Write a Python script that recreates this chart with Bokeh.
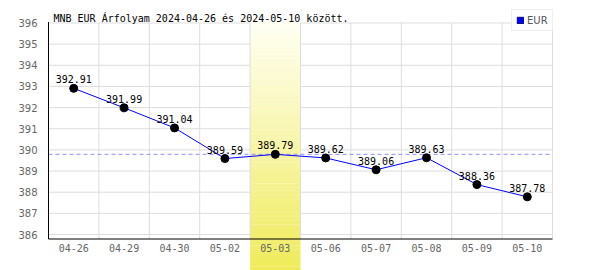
import numpy as np
from bokeh.plotting import figure
from bokeh.models import Range1d, FixedTicker, Legend, LegendItem, Label
from bokeh.core.properties import value
from bokeh.embed import file_html
from bokeh.resources import INLINE

# ---- data ----
dates = ["04-26", "04-29", "04-30", "05-02", "05-03",
         "05-06", "05-07", "05-08", "05-09", "05-10"]
rates = [392.91, 391.99, 391.04, 389.59, 389.79,
         389.62, 389.06, 389.63, 388.36, 387.78]
y_ticks = [386, 387, 388, 389, 390, 391, 392, 393, 394, 395, 396]
highlight_date = "05-03"
marker_value = 389.79
currency = "EUR"
title_text = "MNB EUR Árfolyam 2024-04-26 és 2024-05-10 között."

# ---- layout ----
W, H = 600, 270
LEFT, RIGHT, TOP = 46, 47, 0
PX_X = 50.4
PX_Y = 21.15
n = len(dates)
frame_w = W - LEFT - RIGHT
frame_h = H - TOP
x_start = -(48.0 - LEFT) / PX_X
x_end = x_start + frame_w / PX_X
y_top = max(y_ticks)
y_end = y_top + 22.5 / PX_Y
y_start = y_end - frame_h / PX_Y
axis_y = y_top - 216.0 / PX_Y

p = figure(width=W, height=H, output_backend="svg", toolbar_location=None,
           x_axis_type=None, x_range=Range1d(x_start, x_end),
           y_range=Range1d(y_start, y_end),
           min_border_left=LEFT, min_border_right=RIGHT,
           min_border_top=TOP, min_border_bottom=0)
p.outline_line_color = None
p.background_fill_color = "white"
p.border_fill_color = "white"
p.ygrid.visible = False

# y axis
p.yaxis.ticker = FixedTicker(ticks=y_ticks)
p.yaxis.axis_line_color = None
p.yaxis.major_tick_line_color = None
p.yaxis.minor_tick_line_color = None
p.yaxis.major_label_standoff = 3
p.yaxis.major_label_text_font = "DejaVu Sans"
p.yaxis.major_label_text_font_size = "10px"
p.yaxis.major_label_text_color = "#666666"

xs = [i + 0.5 for i in range(n)]
grid_color = "#dddddd"

# horizontal grid
p.segment(x0=[0] * len(y_ticks), x1=[n] * len(y_ticks), y0=y_ticks, y1=y_ticks,
          line_color=grid_color, line_width=1)

# highlighted day band (vertical gradient)
hi = dates.index(highlight_date)
N = 60
edges = np.linspace(y_start, y_top + 1.5 / PX_Y, N + 1)
top_c = np.array([255, 255, 244])
bot_c = np.array([239, 235, 90])
cols = []
for k in range(N):
    f = 1 - (k + 0.5) / N  # 1 at bottom, 0 at top
    c = top_c + (bot_c - top_c) * f
    cols.append("#%02x%02x%02x" % tuple(int(round(v)) for v in c))
p.quad(left=[hi] * N, right=[hi + 1] * N, bottom=edges[:-1], top=edges[1:] + 0.01,
       fill_color=cols, line_color=None)

# vertical grid
bounds = list(range(1, n + 1))
p.segment(x0=bounds, x1=bounds, y0=[axis_y] * n, y1=[y_top] * n,
          line_color=grid_color, line_width=1)

# reference dashed line
p.segment(x0=[0], x1=[n], y0=[marker_value], y1=[marker_value],
          line_color="#9090ff", line_dash="4 3", line_width=1)

# series
p.line(xs, rates, line_color="#0000ff", line_width=1)
p.scatter(xs, rates, size=8, fill_color="#000000", line_color="#000000")
p.text(x=xs, y=rates, text=["%.2f" % r for r in rates], y_offset=-9,
       text_align="center", text_baseline="alphabetic",
       text_font=value("DejaVu Sans Mono"), text_font_size="10px", text_color="#000000")

# axes lines
p.segment(x0=[0], x1=[n], y0=[axis_y], y1=[axis_y], line_color="#000000", line_width=1)
p.segment(x0=[0], x1=[0], y0=[axis_y], y1=[y_top + 1.0 / PX_Y], line_color="#000000", line_width=1)

# x tick labels
p.text(x=xs, y=[axis_y] * n, text=dates, y_offset=9,
       text_align="center", text_baseline="middle",
       text_font=value("DejaVu Sans Mono"), text_font_size="10px", text_color="#666666")

# title
p.add_layout(Label(x=7, y=H - 18, x_units="screen", y_units="screen", text=title_text,
                   text_font="DejaVu Sans Mono", text_font_size="10px",
                   text_color="#000000", text_baseline="alphabetic", text_align="left"))

# legend (swatch renderer has no visible geometry)
nan = float("nan")
swatch = p.quad(left=[nan], right=[nan], top=[nan], bottom=[nan],
                fill_color="#0000ff", line_color="#000080")
legend = Legend(items=[LegendItem(label=currency, renderers=[swatch])],
                location=(465, 239), padding=4, margin=0, spacing=0,
                glyph_width=8, glyph_height=8, label_standoff=3, label_height=12,
                label_text_font="DejaVu Sans", label_text_font_size="10px",
                label_text_color="#555555", label_text_baseline="middle",
                border_line_color="#dddddd", background_fill_color="white",
                background_fill_alpha=1.0)
p.add_layout(legend)

open("out.html", "w").write(file_html(p, INLINE))
